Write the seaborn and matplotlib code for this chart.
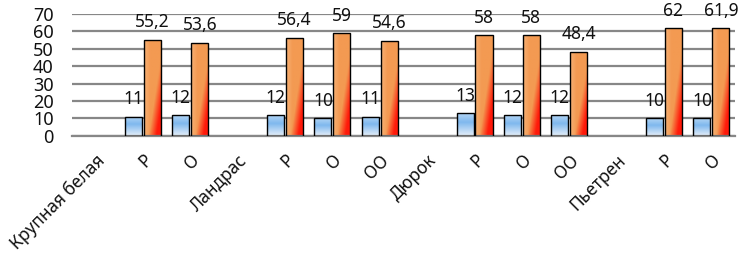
import matplotlib
matplotlib.use("Agg")
import matplotlib.pyplot as plt
from matplotlib.colors import to_rgb
import numpy as np
import pandas as pd
import seaborn as sns

# --------------------------------------------------------------------------- #
# Data
# --------------------------------------------------------------------------- #
CATEGORIES = ["Крупная белая", "Р", "О", "Ландрас", "Р", "О", "ОО",
              "Дюрок", "Р", "О", "ОО", "Пьетрен", "Р", "О"]
SERIES_SMALL = [np.nan, 11, 12, np.nan, 12, 10, 11, np.nan, 13, 12, 12, np.nan, 10, 10]
SERIES_LARGE = [np.nan, 55.2, 53.6, np.nan, 56.4, 59, 54.6, np.nan, 58, 58, 48.4, np.nan, 62, 61.9]
Y_TICKS = [0, 10, 20, 30, 40, 50, 60, 70]

GRID = "#878787"
BLUE_STOPS = ["#b3d5f5", "#7fb8ee", "#e6eff9"]
ORANGE = "#f39a52"
ORANGE_LIGHT = "#f7b57c"
RED = "#ff1a0a"

sns.set_theme(style="white")
plt.rcParams["font.family"] = ["Noto Sans", "DejaVu Sans"]

slots = list(range(len(CATEGORIES)))
df = pd.DataFrame({
    "slot": slots * 2,
    "series": ["small"] * len(slots) + ["large"] * len(slots),
    "value": SERIES_SMALL + SERIES_LARGE,
})

fig, ax = plt.subplots(figsize=(7.41, 2.54), dpi=100)
fig.subplots_adjust(left=0.097, right=0.992, top=0.945, bottom=0.465)

sns.barplot(data=df, x="slot", y="value", hue="series", order=slots,
            hue_order=["small", "large"], dodge=True, width=0.8, gap=0.1,
            legend=False, edgecolor="black", linewidth=1.0, ax=ax)


def blue_gradient(n=64):
    v = np.linspace(1, 0, n)[:, None]  # top -> bottom
    c0, c1, c2 = (np.array(to_rgb(c)) for c in BLUE_STOPS)
    out = np.where(v[..., None] > 0.6,
                   c1 + (c0 - c1) * ((v[..., None] - 0.6) / 0.4),
                   c2 + (c1 - c2) * (v[..., None] / 0.6))
    return np.repeat(out, 8, axis=1)


def orange_gradient(n=64, m=16):
    v = np.linspace(1, 0, n)[:, None]
    u = np.linspace(0, 1, m)[None, :]
    base = np.array(to_rgb(ORANGE))
    light = np.array(to_rgb(ORANGE_LIGHT))
    red = np.array(to_rgb(RED))
    lw = np.clip(1 - u / 0.35, 0, 1)[..., None] * 0.8
    col = base + (light - base) * lw
    w = np.clip((u - 0.25 - 0.9 * v) * 2.2, 0, 1)[..., None]
    return col + (red - col) * w


# Paint gradients clipped to each bar
for bar in ax.patches:
    h = bar.get_height()
    if not np.isfinite(h) or h == 0:
        continue
    x0, w = bar.get_x(), bar.get_width()
    img = blue_gradient() if h < 30 else orange_gradient()
    im = ax.imshow(img, extent=(x0, x0 + w, 0, h), aspect="auto",
                   interpolation="bilinear", zorder=2)
    im.set_clip_path(bar)
    bar.set_facecolor("none")
    bar.set_zorder(3)
    label = f"{h:g}".replace(".", ",")
    ax.annotate(label, (x0 + w / 2, h), xytext=(0, 6), textcoords="offset points",
                ha="center", va="bottom", fontsize=12.5, color="#111111")

ax.set_xlim(-0.5, len(CATEGORIES) - 0.5)
ax.set_ylim(0, 70)
ax.set_yticks(Y_TICKS)
ax.set_xticks(slots)
ax.set_xticklabels(CATEGORIES, rotation=45, ha="right", rotation_mode="anchor")
ax.tick_params(axis="y", length=0, pad=13, labelsize=13, labelcolor="#111111")
ax.tick_params(axis="x", length=0, pad=11, labelsize=12.5, labelcolor="#111111")
ax.set_xlabel("")
ax.set_ylabel("")

ax.yaxis.grid(True, color=GRID, linewidth=1.6)
ax.set_axisbelow(True)
for side in ["top", "right", "left"]:
    ax.spines[side].set_visible(False)
ax.spines["bottom"].set_color(GRID)
ax.spines["bottom"].set_linewidth(1.6)

fig.savefig("out.png", dpi=100)
